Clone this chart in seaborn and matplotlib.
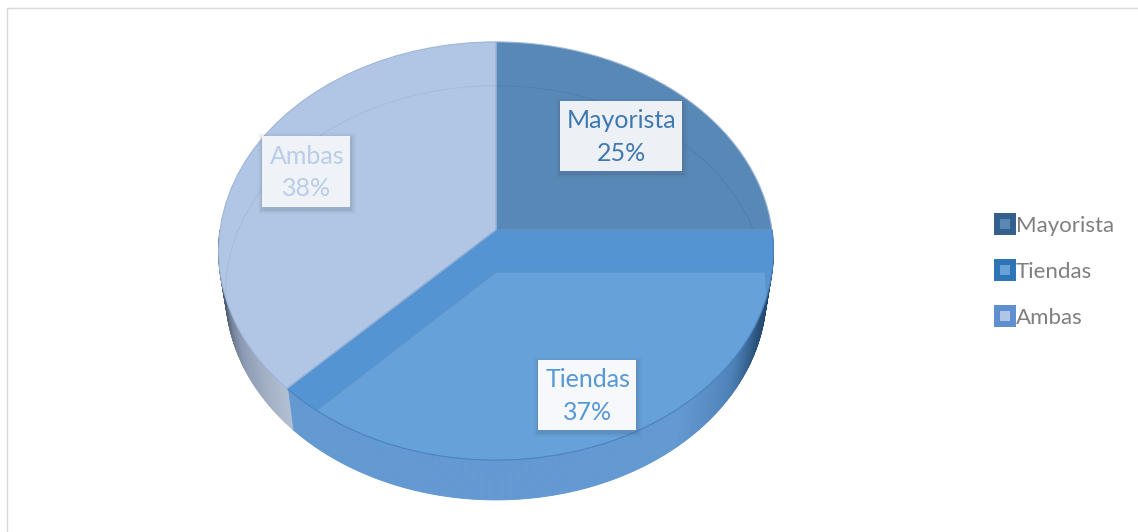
import numpy as np
import matplotlib
matplotlib.use("Agg")
import matplotlib.pyplot as plt
import seaborn as sns
from matplotlib.collections import PolyCollection
from matplotlib.colors import LinearSegmentedColormap
from matplotlib.lines import Line2D
from matplotlib.patches import Rectangle, Wedge
from matplotlib.transforms import Transform

categories = ["Mayorista", "Tiendas", "Ambas"]
values = [25.0, 37.4, 37.6]
top_colors = ["#5888B5", "#5494D3", "#B1C6E4"]
legend_edges = ["#34608E", "#2E75B6", "#5F8FD0"]
legend_faces = ["#5888B5", "#66A1D9", "#B1C6E4"]
label_colors = ["#3E78B2", "#5598D6", "#B9CCE8"]

sns.set_theme(style="white")
plt.rcParams["font.family"] = ["Lato", "DejaVu Sans"]

fig = plt.figure(figsize=(11.38, 5.32), dpi=100, facecolor="white")
ax = fig.add_axes([0, 0, 1, 1])


class Persp(Transform):
    """Tilted-disc projection of the unit pie into figure pixels."""
    input_dims = output_dims = 2
    is_separable = False
    has_inverse = False

    def __init__(self, cx, cy, a, b, k):
        super().__init__()
        self.p = (cx, cy, a, b, k)

    def transform_non_affine(self, values):
        cx, cy, a, b, k = self.p
        v = np.asarray(values, float)
        w = 1 + k * v[:, 1]
        return np.column_stack([cx + a * v[:, 0] / w, cy - b * v[:, 1] / w])


top = Persp(496, 230, 276, 207, 0.1005)
bottom = Persp(496, 272, 269, 205, 0.1005)

wedges, _ = ax.pie(values, startangle=90, counterclock=False,
                   colors=sns.color_palette(top_colors), radius=1)
ax.set_aspect("auto")
ax.set_xlim(0, 1138)
ax.set_ylim(532, 0)
ax.axis("off")

for w in wedges:
    w.set_transform(top + ax.transData)
    w.set_zorder(3)
    w.set_linewidth(0)

# outer wall, shaded by angle from the right edge (0) round the front to the left edge (1)
wall_cmap = LinearSegmentedColormap.from_list("wall", [
    (0.00, "#5B93C9"), (0.05, "#1F3F63"), (0.13, "#2A527C"), (0.20, "#4D82B8"),
    (0.29, "#6399D2"), (0.748, "#6399D2"), (0.749, "#B3BFD2"), (0.85, "#8C9BB3"),
    (0.93, "#56647A"), (1.00, "#3E4A5C")])
theta = np.radians(np.linspace(0, -180, 361))
xy = np.column_stack([np.cos(theta), np.sin(theta)])
pt, pb = top.transform(xy), bottom.transform(xy)
quads = [[pt[i], pt[i + 1], pb[i + 1], pb[i]] for i in range(len(xy) - 1)]
shade = (np.arange(len(quads)) + 0.5) / len(quads)
wall = PolyCollection(quads, array=None, facecolors=wall_cmap(shade),
                      edgecolors=wall_cmap(shade), linewidths=0.6, zorder=1)
ax.add_collection(wall)

# base of each slice seen through the glassy top
for w, col in zip(wedges, ["#5080AE", "#66A1D9", "#A6BCDD"]):
    fill = categories[wedges.index(w)] == "Tiendas"
    base = Wedge((0, 0), 1, w.theta1, w.theta2,
                 facecolor=col if fill else "none",
                 edgecolor="#5E93C8" if fill else col, linewidth=0.8,
                 transform=bottom + ax.transData, zorder=4)
    ax.add_patch(base)
    base.set_clip_path(w)
    outline = Wedge((0, 0), 1, w.theta1, w.theta2, facecolor="none",
                    edgecolor="#4A83BE" if fill else "#9DB5D8", linewidth=0.8,
                    transform=top + ax.transData, zorder=5)
    ax.add_patch(outline)

# data labels
boxes = [(560, 101, 122, 70), (538, 360, 98, 70), (262, 136, 88, 71)]
alphas = [0.9, 0.95, 0.85]
for name, v, col, (x, y, bw, bh), al in zip(categories, values, label_colors, boxes, alphas):
    for off, sa in [(5, 0.04), (3, 0.07), (1.5, 0.08)]:
        ax.add_patch(Rectangle((x - off + 1, y - off + 2), bw + 2 * off, bh + 2 * off,
                               facecolor="#3A4A60", alpha=sa, linewidth=0, zorder=6))
    ax.add_patch(Rectangle((x, y), bw, bh, facecolor="white", alpha=al, linewidth=0, zorder=7))
    ax.text(x + bw / 2 + 1, y + bh / 2 + 1, f"{name}\n{v:.0f}%", color=col, fontsize=18,
            ha="center", va="center", linespacing=1.5, zorder=8)

# chart frame (left and top edges visible)
ax.plot([7.5, 7.5, 1138], [532, 7.5, 7.5], color="#D9D9D9", lw=1, zorder=0)

handles = [Line2D([], [], linestyle="none", marker="s", markersize=11.5,
                  markerfacecolor=f, markeredgecolor=e, markeredgewidth=4.3)
           for f, e in zip(legend_faces, legend_edges)]
ax.legend(handles, categories, loc="center left", bbox_to_anchor=(987 / 1138, 1 - 272 / 532),
          frameon=False, fontsize=16, labelcolor="#7F7F7F", handlelength=1.0,
          handletextpad=0.0, labelspacing=1.16, borderpad=0.3, borderaxespad=0)

fig.savefig("out.png", dpi=100)
